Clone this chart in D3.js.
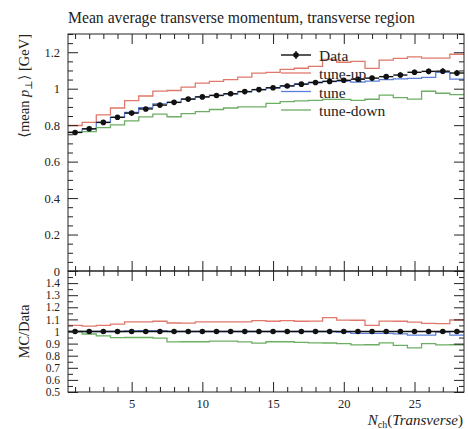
<!DOCTYPE html>
<html>
<head>
<meta charset="utf-8">
<script src="https://cdn.jsdelivr.net/npm/d3@7/dist/d3.min.js"></script>
<style>
  body { margin: 0; background: #fff; }
  text { font-family: "Liberation Serif", "DejaVu Serif", serif; fill: #222; }
</style>
</head>
<body>
<svg id="chart" width="468" height="429"></svg>
<script>
// Mean transverse momentum vs. charged multiplicity in the transverse region
const nch = [1, 2, 3, 4, 5, 6, 7, 8, 9, 10, 11, 12, 13, 14, 15, 16, 17, 18, 19, 20, 21, 22, 23, 24, 25, 26, 27, 28];
const binHalfWidth = 0.5;

const dataVals = [0.760, 0.780, 0.815, 0.843, 0.866, 0.889, 0.910, 0.925, 0.943, 0.955,
                  0.963, 0.972, 0.984, 0.995, 1.005, 1.015, 1.025, 1.034, 1.040, 1.046,
                  1.052, 1.058, 1.066, 1.075, 1.090, 1.095, 1.096, 1.086];
const dataErr  = [0.004, 0.004, 0.004, 0.004, 0.004, 0.004, 0.004, 0.005, 0.005, 0.005,
                  0.005, 0.005, 0.005, 0.006, 0.006, 0.006, 0.006, 0.007, 0.007, 0.007,
                  0.008, 0.008, 0.008, 0.009, 0.009, 0.010, 0.010, 0.011];
const tuneUp   = [0.798, 0.815, 0.856, 0.894, 0.935, 0.960, 0.987, 0.990, 1.009, 1.031,
                  1.040, 1.050, 1.063, 1.085, 1.090, 1.106, 1.112, 1.122, 1.160, 1.145,
                  1.150, 1.111, 1.157, 1.166, 1.175, 1.168, 1.168, 1.189];
const tune     = [0.760, 0.780, 0.815, 0.843, 0.870, 0.896, 0.917, 0.925, 0.943, 0.955,
                  0.963, 0.972, 0.984, 0.995, 1.005, 1.015, 1.025, 1.034, 1.040, 1.041,
                  1.036, 1.042, 1.050, 1.054, 1.057, 1.062, 1.090, 1.053];
const tuneDown = [0.760, 0.764, 0.786, 0.801, 0.823, 0.845, 0.860, 0.846, 0.863, 0.874,
                  0.886, 0.894, 0.900, 0.900, 0.920, 0.929, 0.933, 0.936, 0.941, 0.941,
                  0.936, 0.942, 0.965, 0.951, 0.943, 0.986, 0.975, 0.967];

const mainYTicks  = [0, 0.2, 0.4, 0.6, 0.8, 1, 1.2];
const ratioYTicks = [0.5, 0.6, 0.7, 0.8, 0.9, 1, 1.1, 1.2, 1.3, 1.4];
const xTicks      = [5, 10, 15, 20, 25];

const series = [
  { name: "tune-up",   vals: tuneUp,   color: "#e0786c" },
  { name: "tune",      vals: tune,     color: "#5a7fda" },
  { name: "tune-down", vals: tuneDown, color: "#6cae64" }
];

const svg = d3.select("#chart");
const L = 68, R = 464, T = 34, MID = 271, B = 392;

const x = d3.scaleLinear().domain([0.5, 28.5]).range([L, R]);
const yMain = d3.scaleLinear().domain([0, 1.3]).range([MID, T]);
const yRatio = d3.scaleLinear().domain([0.5, 1.5]).range([B, MID]);

// clip regions for each panel
const defs = svg.append("defs");
defs.append("clipPath").attr("id", "clipMain").append("rect")
  .attr("x", L).attr("y", T).attr("width", R - L).attr("height", MID - T);
defs.append("clipPath").attr("id", "clipRatio").append("rect")
  .attr("x", L).attr("y", MID).attr("width", R - L).attr("height", B - MID);

// step outline of a histogram
function stepPoints(vals) {
  const pts = [];
  nch.forEach((c, i) => {
    pts.push([c - binHalfWidth, vals[i]]);
    pts.push([c + binHalfWidth, vals[i]]);
  });
  return pts;
}

const minorX = nch.filter(v => v % 5 !== 0);
const fmt = d3.format("");

function xAxisPair(y, dir, labels) {
  const major = (dir === "top" ? d3.axisTop(x) : d3.axisBottom(x))
    .tickValues(xTicks).tickSize(-10).tickPadding(7)
    .tickFormat(labels ? fmt : "");
  const minor = (dir === "top" ? d3.axisTop(x) : d3.axisBottom(x))
    .tickValues(minorX).tickSize(-5).tickFormat("");
  [major, minor].forEach(a => {
    const g = svg.append("g").attr("transform", `translate(0,${y})`).call(a);
    g.select(".domain").remove();
    g.selectAll("line").attr("stroke", "#222");
    g.selectAll("text").style("font-size", "12.5px")
      .style("font-family", '"Liberation Serif", serif').attr("fill", "#333");
  });
}

function yAxisPair(scale, majors, minors, side, labels, fontSize) {
  const make = side === "left" ? d3.axisLeft : d3.axisRight;
  const tx = side === "left" ? L : R;
  const major = make(scale).tickValues(majors).tickSize(-10).tickPadding(8)
    .tickFormat(labels ? fmt : "");
  const minor = make(scale).tickValues(minors).tickSize(-5).tickFormat("");
  [major, minor].forEach(a => {
    const g = svg.append("g").attr("transform", `translate(${tx},0)`).call(a);
    g.select(".domain").remove();
    g.selectAll("line").attr("stroke", "#222");
    g.selectAll("text").style("font-size", fontSize + "px")
      .style("font-family", '"Liberation Serif", serif').attr("fill", "#333");
  });
}

const mainMinor = d3.range(0, 27).map(i => +(i * 0.05).toFixed(2))
  .filter(v => !mainYTicks.some(t => Math.abs(t - v) < 1e-6));
const ratioMinor = d3.range(10, 31).map(i => +(i * 0.05).toFixed(2))
  .filter(v => !ratioYTicks.some(t => Math.abs(t - v) < 1e-6) && v < 1.5);

// ---- main panel ----
const gMain = svg.append("g").attr("clip-path", "url(#clipMain)");
const lineMain = d3.line().x(d => x(d[0])).y(d => yMain(d[1]));
series.forEach(s => {
  gMain.append("path").attr("d", lineMain(stepPoints(s.vals)))
    .attr("fill", "none").attr("stroke", s.color).attr("stroke-width", 1.3);
});
nch.forEach((c, i) => {
  const v = dataVals[i], e = dataErr[i];
  gMain.append("line").attr("x1", x(c - binHalfWidth)).attr("x2", x(c + binHalfWidth))
    .attr("y1", yMain(v)).attr("y2", yMain(v)).attr("stroke", "#111").attr("stroke-width", 1.4);
  gMain.append("line").attr("x1", x(c)).attr("x2", x(c))
    .attr("y1", yMain(v - e) + 1).attr("y2", yMain(v + e) - 1).attr("stroke", "#111").attr("stroke-width", 1.4);
  gMain.append("circle").attr("cx", x(c)).attr("cy", yMain(v)).attr("r", 2.8).attr("fill", "#111");
});

// ---- ratio panel ----
const gRatio = svg.append("g").attr("clip-path", "url(#clipRatio)");
const lineRatio = d3.line().x(d => x(d[0])).y(d => yRatio(d[1]));
series.forEach(s => {
  const ratio = s.vals.map((v, i) => v / dataVals[i]);
  gRatio.append("path").attr("d", lineRatio(stepPoints(ratio)))
    .attr("fill", "none").attr("stroke", s.color).attr("stroke-width", 1.3);
});
const dataRatio = dataVals.map(v => v / v);
gRatio.append("path").attr("d", lineRatio(stepPoints(dataRatio)))
  .attr("fill", "none").attr("stroke", "#111").attr("stroke-width", 1.6);
nch.forEach((c, i) => {
  gRatio.append("circle").attr("cx", x(c)).attr("cy", yRatio(dataRatio[i])).attr("r", 2.8).attr("fill", "#111");
});

// ---- axes and frames ----
xAxisPair(T, "top", false);
xAxisPair(MID, "bottom", false);
xAxisPair(MID, "top", false);
xAxisPair(B, "bottom", true);
yAxisPair(yMain, mainYTicks, mainMinor, "left", true, 12.5);
yAxisPair(yMain, mainYTicks, mainMinor, "right", false, 12.5);
yAxisPair(yRatio, ratioYTicks, ratioMinor, "left", true, 11.5);
yAxisPair(yRatio, ratioYTicks, ratioMinor, "right", false, 11.5);

svg.append("rect").attr("x", L).attr("y", T).attr("width", R - L).attr("height", MID - T)
  .attr("fill", "none").attr("stroke", "#222").attr("stroke-width", 1);
svg.append("rect").attr("x", L).attr("y", MID).attr("width", R - L).attr("height", B - MID)
  .attr("fill", "none").attr("stroke", "#222").attr("stroke-width", 1);

// ---- legend ----
const legend = svg.append("g");
const legendRows = [
  { name: "Data", color: "#111", y: 55, data: true },
  { name: "tune-up", color: series[0].color, y: 73 },
  { name: "tune", color: series[1].color, y: 91.5 },
  { name: "tune-down", color: series[2].color, y: 110 }
];
legendRows.forEach(r => {
  legend.append("line").attr("x1", 281).attr("x2", 311).attr("y1", r.y).attr("y2", r.y)
    .attr("stroke", r.color).attr("stroke-width", r.data ? 1.4 : 1.3);
  if (r.data) {
    legend.append("line").attr("x1", 296).attr("x2", 296).attr("y1", r.y - 4).attr("y2", r.y + 4)
      .attr("stroke", "#111").attr("stroke-width", 1.4);
    legend.append("circle").attr("cx", 296).attr("cy", r.y).attr("r", 2.8).attr("fill", "#111");
  }
  legend.append("text").attr("x", 319).attr("y", r.y + 6).style("font-size", "15.5px").text(r.name);
});

// ---- titles ----
svg.append("text").attr("x", L).attr("y", 23).style("font-size", "15.7px")
  .text("Mean average transverse momentum, transverse region");

const yl = svg.append("text").attr("transform", `translate(29,${T}) rotate(-90)`)
  .attr("text-anchor", "end").style("font-size", "14.5px");
yl.append("tspan").text("\u27E8mean ");
yl.append("tspan").style("font-style", "italic").text("p");
yl.append("tspan").attr("baseline-shift", "-25%").style("font-size", "10px").text("\u22A5");
yl.append("tspan").text("\u27E9 [GeV]");

svg.append("text").attr("transform", `translate(29,${(MID + B) / 2}) rotate(-90)`)
  .attr("text-anchor", "middle").style("font-size", "14.5px").text("MC/Data");

const xl = svg.append("text").attr("x", 463).attr("y", 425).attr("text-anchor", "end")
  .style("font-size", "15px");
xl.append("tspan").style("font-style", "italic").text("N");
xl.append("tspan").attr("baseline-shift", "-25%").style("font-size", "10px").text("ch");
xl.append("tspan").text("(");
xl.append("tspan").style("font-style", "italic").text("Transverse");
xl.append("tspan").text(")");
</script>
</body>
</html>
